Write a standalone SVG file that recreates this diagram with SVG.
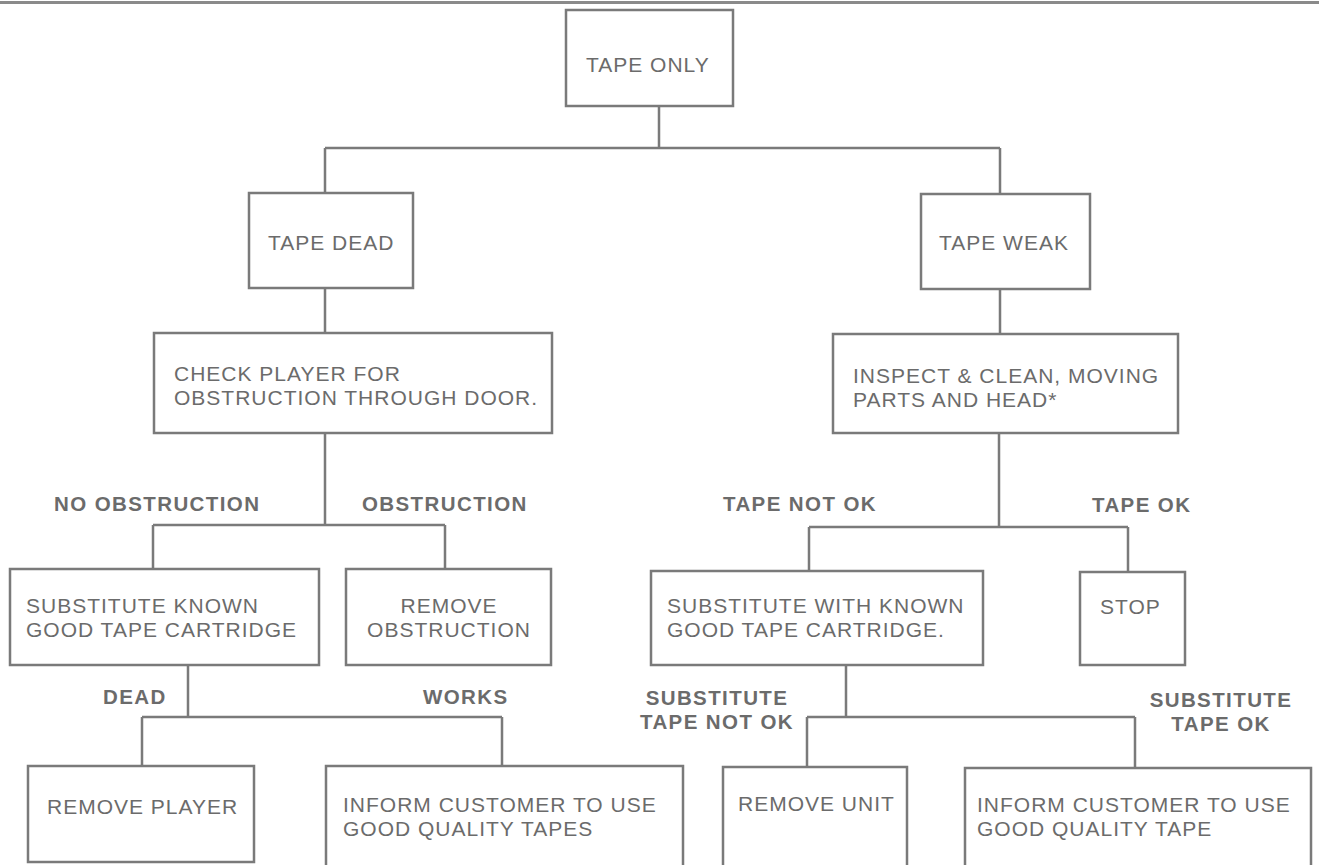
<svg xmlns="http://www.w3.org/2000/svg" width="1319" height="865" viewBox="0 0 1319 865">
<style>
.box{fill:none;stroke:#7a7a7a;stroke-width:2.5}
.ln{fill:none;stroke:#7a7a7a;stroke-width:2.5}
.t{font-family:"Liberation Sans",Arial,sans-serif;font-size:21px;letter-spacing:1px;fill:#6b6b6b}
.lb{font-family:"Liberation Sans",Arial,sans-serif;font-size:20.5px;letter-spacing:1.4px;font-weight:bold;fill:#6b6b6b}
</style>
<rect width="1319" height="865" fill="#ffffff"/>
<line x1="0" y1="2.5" x2="1319" y2="2.5" stroke="#8a8a8a" stroke-width="3"/>
<g id="connectors">
<path class="ln" d="M659,106 V148 M325,148 H1000 M325,148 V193 M1000,148 V194"/>
<path class="ln" d="M325,288 V333 M1000,289 V334"/>
<path class="ln" d="M325,433 V525 M153,525 H445 M153,525 V569 M445,525 V569"/>
<path class="ln" d="M999,433 V527 M809,527 H1128 M809,527 V571 M1128,527 V572"/>
<path class="ln" d="M188,665 V717 M142,717 H502 M142,717 V766 M502,717 V766"/>
<path class="ln" d="M846,665 V717 M807,717 H1135 M807,717 V767 M1135,717 V768"/>
</g>
<g id="tape-only"><rect class="box" x="566" y="10" width="167" height="96"/><text class="t" x="586" y="72">TAPE ONLY</text></g>
<g id="tape-dead"><rect class="box" x="249" y="193" width="164" height="95"/><text class="t" x="268" y="250">TAPE DEAD</text></g>
<g id="tape-weak"><rect class="box" x="921" y="194" width="169" height="95"/><text class="t" x="939" y="250">TAPE WEAK</text></g>
<g id="check-player"><rect class="box" x="154" y="333" width="398" height="100"/><text class="t" x="174" y="381">CHECK PLAYER FOR<tspan x="174" dy="23.5">OBSTRUCTION THROUGH DOOR.</tspan></text></g>
<g id="inspect"><rect class="box" x="833" y="334" width="345" height="99"/><text class="t" x="853" y="383">INSPECT &amp; CLEAN, MOVING<tspan x="853" dy="23.5">PARTS AND HEAD*</tspan></text></g>
<g id="labels">
<text class="lb" x="54" y="511">NO OBSTRUCTION</text>
<text class="lb" x="362" y="511">OBSTRUCTION</text>
<text class="lb" x="723" y="511">TAPE NOT OK</text>
<text class="lb" x="1092" y="512">TAPE OK</text>
<text class="lb" x="103" y="704">DEAD</text>
<text class="lb" x="423" y="704">WORKS</text>
<text class="lb" x="717" y="705" text-anchor="middle">SUBSTITUTE<tspan x="717" dy="23.5">TAPE NOT OK</tspan></text>
<text class="lb" x="1221" y="707" text-anchor="middle">SUBSTITUTE<tspan x="1221" dy="23.5">TAPE OK</tspan></text>
</g>
<g id="substitute-known"><rect class="box" x="10" y="569" width="309" height="96"/><text class="t" x="26" y="613">SUBSTITUTE KNOWN<tspan x="26" dy="23.5">GOOD TAPE CARTRIDGE</tspan></text></g>
<g id="remove-obstruction"><rect class="box" x="346" y="569" width="205" height="96"/><text class="t" x="449" y="613" text-anchor="middle">REMOVE<tspan x="449" dy="23.5">OBSTRUCTION</tspan></text></g>
<g id="substitute-with"><rect class="box" x="651" y="571" width="332" height="94"/><text class="t" x="667" y="613">SUBSTITUTE WITH KNOWN<tspan x="667" dy="23.5">GOOD TAPE CARTRIDGE.</tspan></text></g>
<g id="stop"><rect class="box" x="1080" y="572" width="105" height="93"/><text class="t" x="1100" y="614">STOP</text></g>
<g id="remove-player"><rect class="box" x="28" y="766" width="226" height="96"/><text class="t" x="47" y="814">REMOVE PLAYER</text></g>
<g id="inform-tapes"><rect class="box" x="326" y="766" width="357" height="104"/><text class="t" x="343" y="812">INFORM CUSTOMER TO USE<tspan x="343" dy="23.5">GOOD QUALITY TAPES</tspan></text></g>
<g id="remove-unit"><rect class="box" x="723" y="767" width="184" height="103"/><text class="t" x="738" y="811">REMOVE UNIT</text></g>
<g id="inform-tape"><rect class="box" x="965" y="768" width="346" height="102"/><text class="t" x="977" y="812">INFORM CUSTOMER TO USE<tspan x="977" dy="23.5">GOOD QUALITY TAPE</tspan></text></g>
</svg>
